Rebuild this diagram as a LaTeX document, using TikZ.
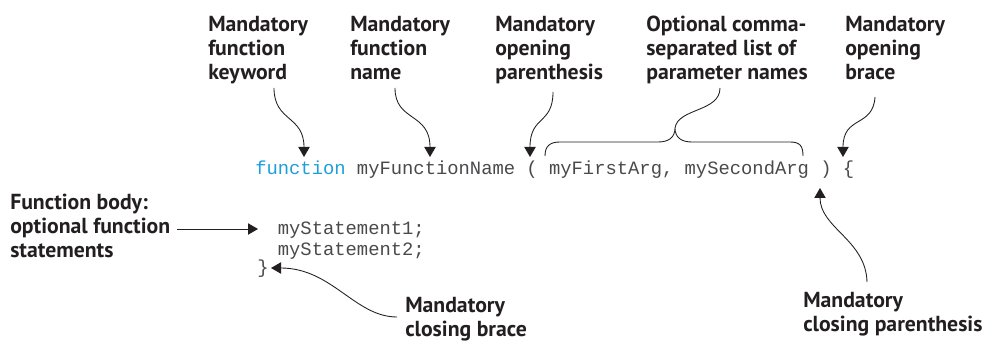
\documentclass[tikz,border=0pt]{standalone}
\usepackage{fontspec}
\usetikzlibrary{arrows.meta}
\newfontfamily\lblfamily{PT Sans}
\newfontfamily\codefamily{Liberation Mono}
\definecolor{ink}{HTML}{231F20}
\definecolor{codegray}{HTML}{4A494B}
\definecolor{kwblue}{HTML}{1E9FD9}
\tikzset{
  lbl/.style={font=\lblfamily\bfseries\fontsize{16.3pt}{18pt}\selectfont, text=ink, align=left, inner sep=0pt, anchor=north west},
  code/.style={font=\codefamily\fontsize{14.125pt}{16pt}\selectfont, text=codegray, inner sep=0pt, anchor=base west},
  conn/.style={draw=ink, line width=0.65pt},
  arr/.style={conn, -{Triangle[length=7.5pt,width=8.5pt]}},
}
\begin{document}
\begin{tikzpicture}[x=0.75pt, y=-0.75pt]
\useasboundingbox (0,0) rectangle (986,342);
% labels
\node[lbl] (l1) at (208,16) {Mandatory\\function\\keyword};
\node[lbl] (l2) at (350,16) {Mandatory\\function\\name};
\node[lbl] (l3) at (495,16) {Mandatory\\opening\\parenthesis};
\node[lbl] (l4) at (646,16) {Optional comma-\\separated list of\\parameter names};
\node[lbl] (l5) at (845,16) {Mandatory\\opening\\brace};
\node[lbl] (l6) at (10,194) {Function body:\\optional function\\statements};
\node[lbl] (l7) at (405,297) {Mandatory\\closing brace};
\node[lbl] (l8) at (803,292) {Mandatory\\closing parenthesis};
% code
\node[code, text=kwblue] (kw) at (255,175) {function};
\node[code] (fn) at (356.7,175) {myFunctionName};
\node[code] (lp) at (526.2,175) {(};
\node[code] (args) at (548.8,175) {myFirstArg, mySecondArg};
\node[code] (rp) at (820,175) {)};
\node[code] (lb) at (842.6,175) {\{};
\node[code] (s1) at (277.6,235) {myStatement1;};
\node[code] (s2) at (277.6,256) {myStatement2;};
\node[code] (rb) at (257,273) {\}};
% connector end points
\coordinate (c1) at (274,88);
\coordinate (t1) at (304,157);
\coordinate (c2) at (395,88);
\coordinate (t2) at (430,157);
\coordinate (c3) at (553,92);
\coordinate (t3) at (530,157);
\coordinate (c5) at (875,97);
\coordinate (t5) at (843,157);
\coordinate (c4) at (720,88);
\coordinate (bp) at (675,128);
\coordinate (c6) at (177,229);
\coordinate (t6) at (258,229);
\coordinate (c7) at (397,317);
\coordinate (t7) at (271,268);
\coordinate (c8) at (867,282);
\coordinate (t8) at (820,188);
% arrows
\draw[arr] (c1) .. controls (274,122) and (304,115) .. (t1);
\draw[arr] (c2) .. controls (395,122) and (430,112) .. (t2);
\draw[arr] (c3) .. controls (553,125) and (530,115) .. (t3);
\draw[arr] (c5) .. controls (873,128) and (843,115) .. (t5);
\draw[arr] (c6) -- (t6);
\draw[arr] (c7) .. controls (355,317) and (332,268) .. (t7);
\draw[arr] (c8) .. controls (866,240) and (820,228) .. (t8);
% brace over arguments
\draw[conn] (545,156) .. controls (545,146) and (550,142) .. (560,142)
  -- (658,142) .. controls (668,142) and (675,138) .. (bp)
  .. controls (675,138) and (682,142) .. (692,142)
  -- (790,142) .. controls (800,142) and (803,146) .. (803,156);
\draw[conn] (bp) .. controls (678,108) and (720,112) .. (c4);
\end{tikzpicture}
\end{document}
